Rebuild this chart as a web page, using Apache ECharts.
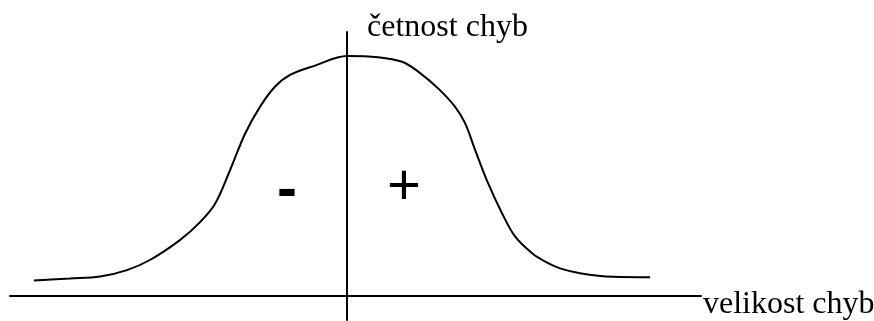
<!DOCTYPE html>
<html>
<head>
<meta charset="utf-8">
<script src="https://cdn.jsdelivr.net/npm/echarts@6/dist/echarts.min.js"></script>
<style>
  html, body { margin: 0; padding: 0; background: #fff; }
  #chart { width: 874px; height: 321px; }
</style>
</head>
<body>
<div id="chart"></div>
<script>
// bell curve of error frequency (x: error size, y: frequency)
const errorSize = [
  -9.29, -8.22, -7.33, -6.53, -5.85, -4.96, -4.36, -3.92, -3.47, -3.03, -2.58, -2.14,
  -1.69, -0.95, 0,
  0.92, 1.63, 2.11, 2.70, 3.20, 3.50, 3.80, 4.18, 4.60, 4.99, 5.49, 5.88, 6.32,
  6.91, 7.89, 8.99
];
const frequency = [
  6.5, 7.3, 8.1, 10.8, 15.0, 23.3, 30.8, 38.3, 52.5, 67.5, 78.9, 87.2,
  92.1, 96.0, 100,
  99.5, 97.6, 93.5, 86.5, 78.9, 72.0, 60.8, 47.1, 34.4, 24.7, 17.8, 14.3, 11.5,
  9.5, 8.0, 7.8
];
const xName = 'velikost chyb';
const yName = 'četnost chyb';
const signLabels = ['-', '+'];

const chart = echarts.init(document.getElementById('chart'), null, { renderer: 'canvas' });

const curveData = errorSize.map((x, i) => [x, frequency[i]]);

const axisLineStyle = { color: '#000', width: 2 };
const nameFont = { fontFamily: 'Liberation Serif', fontSize: 32, color: '#000' };

chart.setOption({
  animation: false,
  backgroundColor: '#fff',
  grid: { left: 10, right: 173, top: 32, bottom: 1, containLabel: false, outerBoundsMode: 'none' },
  xAxis: {
    type: 'value',
    min: -10,
    max: 10.5,
    name: xName,
    nameLocation: 'end',
    nameGap: 2,
    nameTextStyle: Object.assign({ verticalAlign: 'top', lineHeight: 18 }, nameFont),
    axisLine: { onZero: true, lineStyle: axisLineStyle },
    axisTick: { show: false },
    axisLabel: { show: false },
    splitLine: { show: false }
  },
  yAxis: {
    type: 'value',
    min: -10,
    max: 110,
    name: yName,
    nameLocation: 'end',
    nameGap: 4,
    nameTextStyle: Object.assign({ align: 'left', verticalAlign: 'middle', padding: [0, 0, 0, 20] }, nameFont),
    axisLine: { show: true, onZero: true, lineStyle: axisLineStyle },
    axisTick: { show: false },
    axisLabel: { show: false },
    splitLine: { show: false }
  },
  graphic: [
    {
      type: 'text',
      x: 287,
      y: 191,
      style: {
        text: signLabels[0],
        fontFamily: 'Liberation Sans',
        fontWeight: 'bold',
        fontSize: 60,
        fill: '#000',
        align: 'center',
        verticalAlign: 'middle'
      }
    },
    {
      type: 'text',
      x: 404,
      y: 188,
      style: {
        text: signLabels[1],
        fontFamily: 'Liberation Sans',
        fontSize: 58,
        fill: '#000',
        align: 'center',
        verticalAlign: 'middle'
      }
    }
  ],
  series: [
    {
      type: 'line',
      data: curveData,
      smooth: 0.35,
      showSymbol: false,
      symbol: 'none',
      lineStyle: { color: '#000', width: 2 }
    }
  ]
});
</script>
</body>
</html>
